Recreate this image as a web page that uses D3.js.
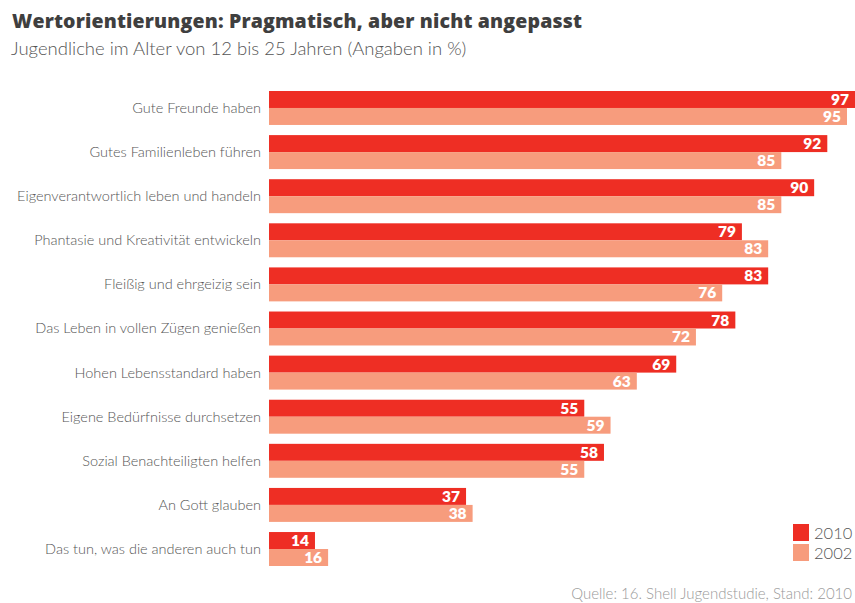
<!DOCTYPE html>
<html>
<head>
<meta charset="utf-8">
<script src="https://cdn.jsdelivr.net/npm/d3@7"></script>
<style>
  html, body { margin: 0; padding: 0; background: #fff; }
  svg { display: block; font-family: Lato, "Open Sans", sans-serif; }
</style>
</head>
<body>
<svg id="chart" width="855" height="603"></svg>
<script>
// Werte (Angaben in %)
const categories = [
  "Gute Freunde haben",
  "Gutes Familienleben führen",
  "Eigenverantwortlich leben und handeln",
  "Phantasie und Kreativität entwickeln",
  "Fleißig und ehrgeizig sein",
  "Das Leben in vollen Zügen genießen",
  "Hohen Lebensstandard haben",
  "Eigene Bedürfnisse durchsetzen",
  "Sozial Benachteiligten helfen",
  "An Gott glauben",
  "Das tun, was die anderen auch tun"
];
const values2010 = [97, 92, 90, 79, 83, 78, 69, 55, 58, 37, 14];
const values2002 = [95, 85, 85, 83, 76, 72, 63, 59, 55, 38, 16];
const seriesNames = ["2010", "2002"];

const colors = ["#EE2E24", "#F79C7D"];

const svg = d3.select("#chart");

// Titel und Untertitel
svg.append("text")
  .attr("x", 12).attr("y", 28)
  .attr("font-family", "'Open Sans', sans-serif")
  .attr("font-size", 19.5).attr("font-weight", 800)
  .attr("fill", "#3f3f3f")
  .attr("textLength", 570).attr("lengthAdjust", "spacing")
  .text("Wertorientierungen: Pragmatisch, aber nicht angepasst");
svg.append("text")
  .attr("x", 11).attr("y", 55)
  .attr("font-size", 18.5).attr("font-weight", 300)
  .attr("fill", "#555")
  .text("Jugendliche im Alter von 12 bis 25 Jahren (Angaben in %)");

// Skalen
const baseValue = 7;
const x = d3.scaleLinear().domain([baseValue, 95]).range([269, 847]);
const y = d3.scaleBand().domain(categories).range([91, 566]).paddingInner(0.23).paddingOuter(0);
const sub = d3.scaleBand().domain(seriesNames).range([0, y.bandwidth()]);

const rows = categories.map((c, i) => ({ cat: c, vals: [values2010[i], values2002[i]] }));

const g = svg.append("g");
const row = g.selectAll("g.row").data(rows).join("g")
  .attr("class", "row")
  .attr("transform", d => `translate(0,${y(d.cat)})`);

row.selectAll("rect").data(d => d.vals.map((v, k) => ({ v, k })))
  .join("rect")
  .attr("x", x(baseValue))
  .attr("y", d => sub(seriesNames[d.k]))
  .attr("width", d => x(d.v) - x(baseValue))
  .attr("height", sub.bandwidth())
  .attr("fill", d => colors[d.k]);

row.selectAll("text.val").data(d => d.vals.map((v, k) => ({ v, k })))
  .join("text")
  .attr("class", "val")
  .attr("x", d => Math.min(x(d.v), 855) - 6)
  .attr("y", d => sub(seriesNames[d.k]) + sub.bandwidth() / 2 + 5.5)
  .attr("text-anchor", "end")
  .attr("font-size", 15.5).attr("font-weight", 800)
  .attr("fill", "#fff")
  .text(d => d.v);

// Kategoriebeschriftungen
row.append("text")
  .attr("x", 261)
  .attr("y", y.bandwidth() / 2 + 5)
  .attr("text-anchor", "end")
  .attr("font-size", 14.5).attr("font-weight", 300)
  .attr("fill", "#555")
  .text(d => d.cat);

// Legende
const legend = svg.append("g").attr("transform", "translate(793,524)");
seriesNames.forEach((s, k) => {
  legend.append("rect")
    .attr("x", 0).attr("y", k * 20)
    .attr("width", 16).attr("height", 17)
    .attr("fill", colors[k]);
  legend.append("text")
    .attr("x", 21).attr("y", k * 20 + 15)
    .attr("font-size", 16.5).attr("font-weight", 300)
    .attr("fill", "#555")
    .text(s);
});

// Quelle
svg.append("text")
  .attr("x", 852).attr("y", 599)
  .attr("text-anchor", "end")
  .attr("font-size", 15).attr("font-weight", 300)
  .attr("fill", "#999")
  .text("Quelle: 16. Shell Jugendstudie, Stand: 2010");
</script>
</body>
</html>
